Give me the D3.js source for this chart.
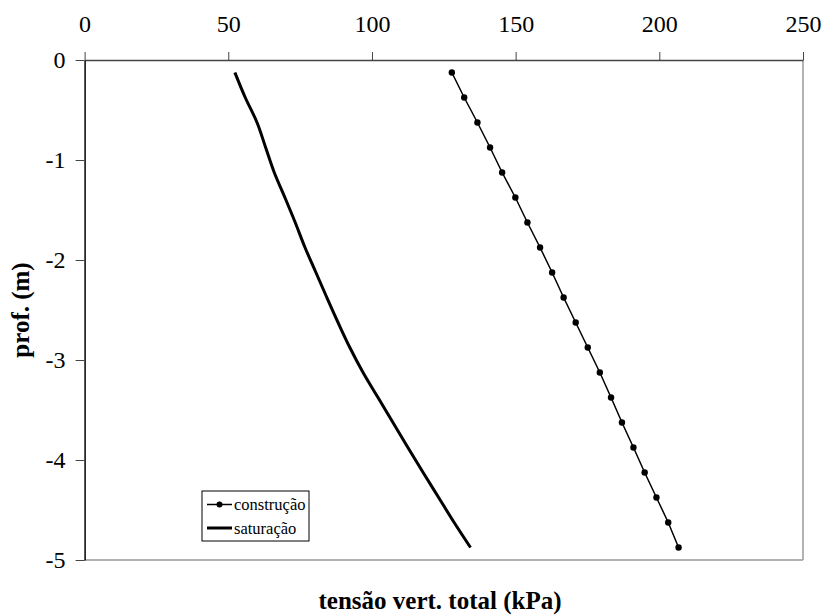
<!DOCTYPE html>
<html>
<head>
<meta charset="utf-8">
<script src="https://cdn.jsdelivr.net/npm/d3@7"></script>
<style>
  body { margin: 0; background: #fff; }
</style>
</head>
<body>
<script>
var w = 823;
var h = 615;
var serif = 'Liberation Serif';

// depth (m) and vertical stress (kPa)
var depths = [-0.125, -0.375, -0.625, -0.875, -1.125, -1.375, -1.625, -1.875, -2.125, -2.375,
              -2.625, -2.875, -3.125, -3.375, -3.625, -3.875, -4.125, -4.375, -4.625, -4.875];
var construcao = [127.8, 132.1, 136.7, 141.1, 145.3, 149.9, 154.1, 158.5, 162.7, 166.7,
                  170.9, 175.1, 179.3, 183.2, 187.0, 191.0, 194.9, 199.0, 203.1, 206.7];
var saturacao = [52.3, 55.9, 60.0, 63.0, 66.0, 69.7, 73.3, 76.7, 80.5, 84.3,
                 88.2, 92.3, 96.9, 102.1, 107.3, 112.5, 117.8, 123.2, 128.6, 134.3];
var xTicks = [0, 50, 100, 150, 200, 250];
var yTicks = [0, -1, -2, -3, -4, -5];

var x = d3.scaleLinear().domain([0, 250]).range([84.6, 803]);
var y = d3.scaleLinear().domain([0, -5]).range([60, 560]);

var svg = d3.select('body')
  .append('svg')
  .attr('width', w)
  .attr('height', h);

// right and bottom borders
svg.append('line')
  .attr('x1', x(250)).attr('x2', x(250))
  .attr('y1', y(0)).attr('y2', y(-5))
  .attr('stroke', '#9a9a9a').attr('stroke-width', 1.5);
svg.append('line')
  .attr('x1', x(0)).attr('x2', x(250))
  .attr('y1', y(-5)).attr('y2', y(-5))
  .attr('stroke', '#9a9a9a').attr('stroke-width', 1.5);

var xAxis = svg.append('g')
  .attr('transform', 'translate(0,' + y(0) + ')')
  .call(d3.axisTop(x).tickValues(xTicks).tickSize(8).tickSizeOuter(0).tickPadding(20));
xAxis.attr('font-family', serif).attr('font-size', 24);
xAxis.select('.domain').attr('stroke', '#444').attr('stroke-width', 1.5);
xAxis.selectAll('.tick line').attr('stroke', '#444');
xAxis.selectAll('.tick text').attr('fill', '#000');

var yAxis = svg.append('g')
  .attr('transform', 'translate(' + x(0) + ',0)')
  .call(d3.axisLeft(y).tickValues(yTicks).tickSize(9).tickSizeOuter(0).tickPadding(10)
    .tickFormat(function (d) { return d === 0 ? '0' : '-' + Math.abs(d); }));
yAxis.attr('font-family', serif).attr('font-size', 24);
yAxis.select('.domain').attr('stroke', '#000').attr('stroke-width', 1.5);
yAxis.selectAll('.tick line').attr('stroke', '#444');
yAxis.selectAll('.tick text').attr('fill', '#000');

// titles
svg.append('text')
  .attr('x', 440)
  .attr('y', 609)
  .attr('text-anchor', 'middle')
  .attr('font-family', serif)
  .attr('font-size', 25)
  .attr('font-weight', 'bold')
  .text('tensão vert. total (kPa)');

svg.append('text')
  .attr('transform', 'translate(29,' + y(-2.5) + ') rotate(-90)')
  .attr('text-anchor', 'middle')
  .attr('font-family', serif)
  .attr('font-size', 25)
  .attr('font-weight', 'bold')
  .text('prof. (m)');

var line = d3.line()
  .x(function (d) { return x(d[0]); })
  .y(function (d) { return y(d[1]); });

var satData = saturacao.map(function (v, i) { return [v, depths[i]]; });
var conData = construcao.map(function (v, i) { return [v, depths[i]]; });

svg.append('path')
  .datum(satData)
  .attr('d', line.curve(d3.curveMonotoneY))
  .attr('fill', 'none')
  .attr('stroke', '#000')
  .attr('stroke-width', 3);

svg.append('path')
  .datum(conData)
  .attr('d', line.curve(d3.curveLinear))
  .attr('fill', 'none')
  .attr('stroke', '#000')
  .attr('stroke-width', 1.5);

svg.selectAll('circle.con')
  .data(conData)
  .enter()
  .append('circle')
  .attr('class', 'con')
  .attr('cx', function (d) { return x(d[0]); })
  .attr('cy', function (d) { return y(d[1]); })
  .attr('r', 3.2)
  .attr('fill', '#000');

// legend
var lg = svg.append('g').attr('transform', 'translate(202,491)')
  .attr('font-family', serif).attr('font-size', 16.5);
lg.append('rect')
  .attr('width', 107).attr('height', 50)
  .attr('fill', '#fff').attr('stroke', '#000').attr('stroke-width', 1);
lg.append('line')
  .attr('x1', 5).attr('x2', 30).attr('y1', 13.5).attr('y2', 13.5)
  .attr('stroke', '#000').attr('stroke-width', 1.5);
lg.append('circle').attr('cx', 17.5).attr('cy', 13.5).attr('r', 3).attr('fill', '#000');
lg.append('text').attr('x', 32).attr('y', 19).text('construção');
lg.append('line')
  .attr('x1', 5).attr('x2', 30).attr('y1', 37).attr('y2', 37)
  .attr('stroke', '#000').attr('stroke-width', 3);
lg.append('text').attr('x', 32).attr('y', 42.5).text('saturação');
</script>
</body>
</html>
